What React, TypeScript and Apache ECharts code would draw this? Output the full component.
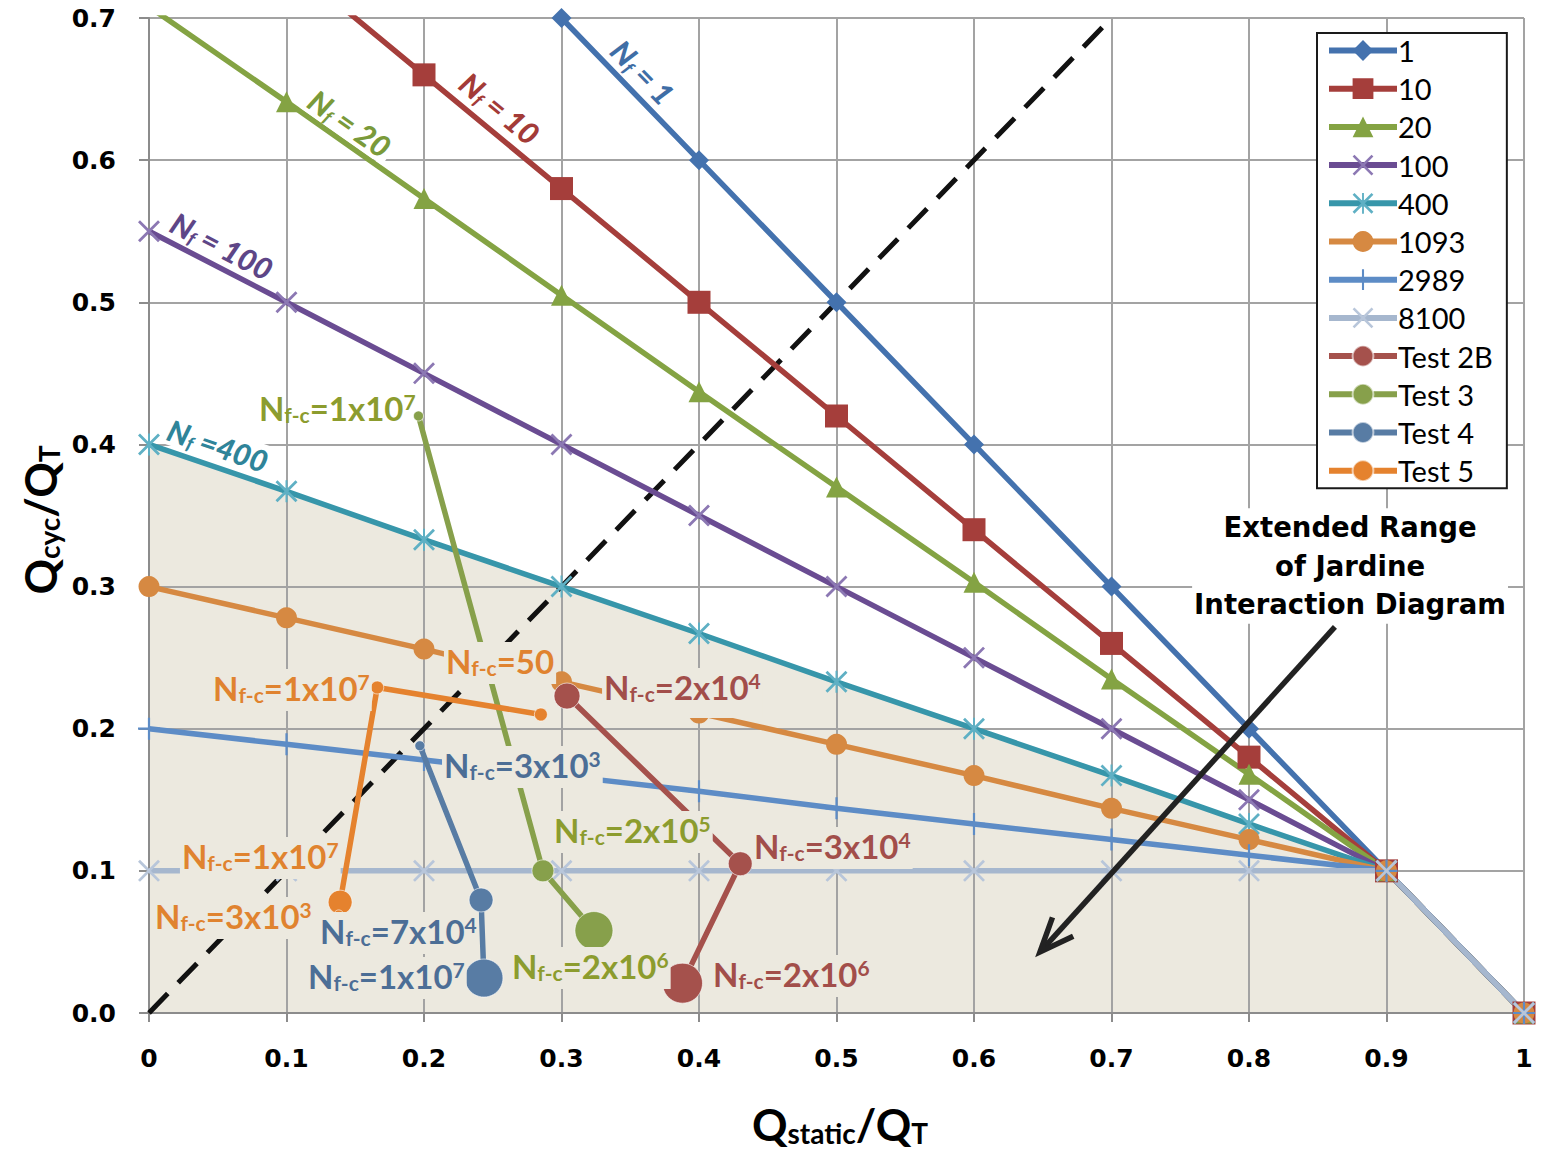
import React, { useEffect, useRef } from "react";
import * as echarts from "echarts";

// ---------- data ----------
const xs = [0, 0.1, 0.2, 0.3, 0.4, 0.5, 0.6, 0.7, 0.8, 0.9, 1];
const nf1 = [1.0, 0.9, 0.8, 0.7, 0.6, 0.5, 0.4, 0.3, 0.2, 0.1, 0];
const nf10 = [0.82, 0.74, 0.66, 0.58, 0.5, 0.42, 0.34, 0.26, 0.18, 0.1, 0];
const nf20 = [0.708, 0.641, 0.573, 0.505, 0.437, 0.37, 0.303, 0.235, 0.168, 0.1, 0];
const nf100 = [0.55, 0.5, 0.45, 0.4, 0.35, 0.3, 0.25, 0.2, 0.15, 0.1, 0];
const nf400 = [0.4, 0.367, 0.333, 0.3, 0.267, 0.233, 0.2, 0.167, 0.133, 0.1, 0];
const nf1093 = [0.3, 0.278, 0.256, 0.233, 0.211, 0.189, 0.167, 0.144, 0.122, 0.1, 0];
const nf2989 = [0.2, 0.189, 0.178, 0.167, 0.156, 0.144, 0.133, 0.122, 0.111, 0.1, 0];
const nf8100 = [0.1, 0.1, 0.1, 0.1, 0.1, 0.1, 0.1, 0.1, 0.1, 0.1, 0];

const test2B = [[0.304, 0.223], [0.43, 0.105], [0.388, 0.021]];
const test2BSize = [26, 24, 40];
const test3 = [[0.196, 0.42], [0.2865, 0.1], [0.3236, 0.058]];
const test3Size = [10, 22, 38];
const test4 = [[0.197, 0.188], [0.2415, 0.0795], [0.2436, 0.0246]];
const test4Size = [10, 24, 38];
const test5 = [[0.285, 0.21], [0.166, 0.229], [0.139, 0.078], [0.138, 0.069]];
const test5Size = [13, 13, 24, 10];

const diagonal = [[0, 0], [0.7, 0.7]];

const legendNames = ["1", "10", "20", "100", "400", "1093", "2989", "8100", "Test 2B", "Test 3", "Test 4", "Test 5"];

// annotation texts (anchor in data coordinates)
const nfLabels = [
  { t: " = 1", x: 0.3593, y: 0.662, slope: 1.0, color: "#3F6EA6" },
  { t: " = 10", x: 0.2553, y: 0.6367, slope: 0.8, color: "#A33B38" },
  { t: " = 20", x: 0.1462, y: 0.626, slope: 0.676, color: "#7A9A3A" },
  { t: " = 100", x: 0.0531, y: 0.5399, slope: 0.5, color: "#5E4687" },
  { t: " =400", x: 0.0502, y: 0.3995, slope: 0.333, color: "#2F8499" },
];

const nfcLabels = [
  { v: "1x10", e: "7", x: 0.0785, y: 0.4242, color: "#8C9C2E", bg: "rgba(0,0,0,0)", pb: 6 },
  { v: "50", e: "", x: 0.2145, y: 0.2462, color: "#E0832F", bg: "#ECE9DF", pb: 6 },
  { v: "1x10", e: "7", x: 0.0451, y: 0.2272, color: "#E0832F", bg: "#ECE9DF", pb: 6 },
  { v: "2x10", e: "4", x: 0.3295, y: 0.2251, color: "#A24E4A", bg: "#ECE9DF", pb: 14 },
  { v: "3x10", e: "3", x: 0.2131, y: 0.1731, color: "#4C6E96", bg: "#ECE9DF", pb: 6 },
  { v: "2x10", e: "5", x: 0.2931, y: 0.1273, color: "#8C9C2E", bg: "#ECE9DF", pb: 6 },
  { v: "3x10", e: "4", x: 0.4385, y: 0.1161, color: "#A24E4A", bg: "#ECE9DF", pb: 6 },
  { v: "1x10", e: "7", x: 0.0225, y: 0.109, color: "#E0832F", bg: "#ECE9DF", pb: 6 },
  { v: "3x10", e: "3", x: 0.0029, y: 0.0668, color: "#E0832F", bg: "#ECE9DF", pb: 6 },
  { v: "7x10", e: "4", x: 0.1229, y: 0.0563, color: "#4C6E96", bg: "#ECE9DF", pb: 6 },
  { v: "1x10", e: "7", x: 0.1142, y: 0.0246, color: "#4C6E96", bg: "#ECE9DF", pb: 6 },
  { v: "2x10", e: "6", x: 0.2625, y: 0.0317, color: "#8C9C2E", bg: "#ECE9DF", pb: 6 },
  { v: "2x10", e: "6", x: 0.4087, y: 0.026, color: "#A24E4A", bg: "#ECE9DF", pb: 6 },
];

const noteText = ["Extended Range", "of Jardine", "Interaction Diagram"];
const noteAnchor = [0.8735, 0.3145];
const arrowFrom = [0.8625, 0.2716];
const arrowTo = [0.648, 0.0429];

// ---------- styling ----------
const SYM_X = "path://M0,0.9L0.9,0L10,9.1L9.1,10Z M9.1,0L10,0.9L0.9,10L0,9.1Z";
const SYM_STAR = "path://M0,0.9L0.9,0L10,9.1L9.1,10Z M9.1,0L10,0.9L0.9,10L0,9.1Z M4.55,0L5.45,0L5.45,10L4.55,10Z";
const SYM_PLUS = "path://M4.5,0L5.5,0L5.5,10L4.5,10Z M0,4.5L10,4.5L10,5.5L0,5.5Z";

const LBL_FONT = "Lato, 'Open Sans', sans-serif";
const TICK_FONT = "'DejaVu Sans', Verdana, sans-serif";
const LW = 5.5;

function pairs(ys: number[]) {
  return xs.map((x, i) => [x, ys[i]]);
}

function nfSeries(name: string, ys: number[], color: string, symbol: string, size: number, symColor?: string) {
  return {
    name,
    type: "line",
    data: pairs(ys),
    symbol,
    symbolSize: size,
    showAllSymbol: true,
    clip: true,
    lineStyle: { color, width: LW },
    itemStyle: { color: symColor || color },
    color,
    z: 3,
  };
}

function testSeries(name: string, pts: number[][], sizes: number[], color: string) {
  return {
    name,
    type: "line",
    data: pts.map((p, i) => ({ value: p, symbolSize: sizes[i] })),
    symbol: "circle",
    symbolSize: 14,
    showAllSymbol: true,
    lineStyle: { color, width: LW },
    itemStyle: { color, borderColor: "rgba(255,255,255,0.6)", borderWidth: 1 },
    color,
    z: 4,
  };
}

export default function App() {
  const ref = useRef<HTMLDivElement>(null);
  useEffect(() => {
    if (!ref.current) return;
    const chart = echarts.init(ref.current, null, { renderer: "svg" });
    const option: any = {
      animation: false,
      backgroundColor: "#ffffff",
      grid: { left: 149, right: 21, top: 18, bottom: 136, containLabel: false },
      xAxis: {
        type: "value",
        min: 0,
        max: 1,
        interval: 0.1,
        axisLine: { show: true, lineStyle: { color: "#8c8c8c", width: 2 } },
        axisTick: { show: true, length: 9, lineStyle: { color: "#8c8c8c", width: 2 } },
        splitLine: { show: true, lineStyle: { color: "#a3a3a3", width: 2 } },
        axisLabel: {
          margin: 33,
          color: "#000",
          fontFamily: TICK_FONT,
          fontWeight: "bold",
          fontSize: 25,
          formatter: (v: number) => (v === 0 ? "0" : v === 1 ? "1" : v.toFixed(1)),
        },
      },
      yAxis: {
        type: "value",
        min: 0,
        max: 0.7,
        interval: 0.1,
        axisLine: { show: true, lineStyle: { color: "#8c8c8c", width: 2 } },
        axisTick: { show: true, length: 10, lineStyle: { color: "#8c8c8c", width: 2 } },
        splitLine: { show: true, lineStyle: { color: "#a3a3a3", width: 2 } },
        axisLabel: {
          margin: 33,
          color: "#000",
          fontFamily: TICK_FONT,
          fontWeight: "bold",
          fontSize: 25,
          formatter: (v: number) => v.toFixed(1),
        },
      },
      legend: {
        data: legendNames,
        orient: "vertical",
        left: 1317,
        top: 33,
        padding: [3, 14, 3, 9],
        itemWidth: 68,
        itemHeight: 26,
        itemGap: 9.2,
        backgroundColor: "#ffffff",
        borderColor: "#1a1a1a",
        borderWidth: 2,
        lineStyle: { width: 6 },
        textStyle: { fontFamily: LBL_FONT, fontSize: 29, lineHeight: 26, color: "#000", padding: [0, 0, 0, -4] },
      },
      series: [
        {
          name: "fill",
          type: "line",
          data: pairs(nf400),
          symbol: "none",
          lineStyle: { width: 0, opacity: 0 },
          areaStyle: { color: "#ECE9DF", opacity: 1 },
          silent: true,
          z: -1,
        },
        {
          name: "diag",
          type: "line",
          data: diagonal,
          symbol: "none",
          lineStyle: { color: "#111", width: 5, type: [27, 15] },
          silent: true,
          z: 2,
        },
        nfSeries("1", nf1, "#4472AE", "diamond", 20),
        nfSeries("10", nf10, "#A53E3B", "rect", 23),
        nfSeries("20", nf20, "#84A343", "triangle", 21),
        nfSeries("100", nf100, "#6A4C92", SYM_X, 22, "#8c78b3"),
        nfSeries("400", nf400, "#3796AA", SYM_STAR, 22, "#5fb0c4"),
        nfSeries("1093", nf1093, "#D68942", "circle", 21),
        nfSeries("2989", nf2989, "#5D8CC6", SYM_PLUS, 22),
        nfSeries("8100", nf8100, "#A6B7CE", SYM_X, 22, "#b8c6da"),
        testSeries("Test 2B", test2B, test2BSize, "#A5514C"),
        testSeries("Test 3", test3, test3Size, "#87A04B"),
        testSeries("Test 4", test4, test4Size, "#587CA4"),
        testSeries("Test 5", test5, test5Size, "#E5822E"),
      ],
    };
    chart.setOption(option);

    const px = (p: number[]) => chart.convertToPixel({ gridIndex: 0 } as any, p) as number[];
    const kx = px([1, 0])[0] - px([0, 0])[0];
    const ky = px([0, 0])[1] - px([0, 1])[1];

    const graphics: any[] = [];

    nfLabels.forEach((l) => {
      const p = px([l.x, l.y]);
      const ang = Math.atan((l.slope * ky) / kx);
      const tok = { fill: l.color, fontFamily: LBL_FONT, fontWeight: "900", fontStyle: "italic" };
      graphics.push({
        type: "text",
        x: p[0],
        y: p[1],
        rotation: -ang,
        z: 60,
        style: {
          text: `{n|N}{s|f}{n|${l.t}}`,
          align: "center",
          verticalAlign: "middle",
          backgroundColor: "#ffffff",
          padding: [0, 4, 0, 4],
          rich: {
            n: { ...tok, fontSize: 30, lineHeight: 32 },
            s: { ...tok, fontSize: 18, lineHeight: 2, verticalAlign: "bottom" },
          },
        },
      });
    });

    nfcLabels.forEach((l) => {
      const p = px([l.x, l.y]);
      const tok = { fill: l.color, fontFamily: LBL_FONT, fontWeight: "bold" };
      const text = `{n|N}{s|f-c}{n|=${l.v}}` + (l.e ? `{p|${l.e}}` : "");
      graphics.push({
        type: "text",
        x: p[0],
        y: p[1],
        z: 60,
        style: {
          text,
          align: "left",
          verticalAlign: "middle",
          backgroundColor: l.bg,
          padding: [2, 2, l.pb, 2],
          rich: {
            n: { ...tok, fontSize: 33, lineHeight: 34 },
            s: { ...tok, fontSize: 21, lineHeight: 2, verticalAlign: "bottom" },
            p: { ...tok, fontSize: 21, lineHeight: 16, verticalAlign: "top" },
          },
        },
      });
    });

    const na = px(noteAnchor);
    graphics.push({
      type: "text",
      x: na[0],
      y: na[1],
      z: 55,
      style: {
        text: noteText.join("\n"),
        align: "center",
        verticalAlign: "middle",
        fill: "#000",
        fontFamily: TICK_FONT,
        fontWeight: "bold",
        fontSize: 27.5,
        lineHeight: 38.5,
        backgroundColor: "#ffffff",
        padding: [0, 2, 0, 2],
      },
    });

    const a0 = px(arrowFrom);
    const a1 = px(arrowTo);
    const dx = a0[0] - a1[0];
    const dy = a0[1] - a1[1];
    const len = Math.sqrt(dx * dx + dy * dy);
    const ux = dx / len;
    const uy = dy / len;
    const hl = 34;
    const hw = 14;
    const h1 = [a1[0] + ux * hl - uy * hw, a1[1] + uy * hl + ux * hw];
    const h2 = [a1[0] + ux * hl + uy * hw, a1[1] + uy * hl - ux * hw];
    graphics.push({
      type: "line",
      z: 55,
      shape: { x1: a0[0], y1: a0[1], x2: a1[0] + ux * 3, y2: a1[1] + uy * 3 },
      style: { stroke: "#222", lineWidth: 5.5 },
    });
    graphics.push({
      type: "polyline",
      z: 55,
      shape: { points: [h1, a1, h2] },
      style: { stroke: "#222", lineWidth: 5.5, fill: null, lineJoin: "miter" },
    });

    // axis titles
    const big = { fill: "#000", fontFamily: LBL_FONT, fontWeight: "bold", fontSize: 44, lineHeight: 46 };
    const sub = { fill: "#000", fontFamily: LBL_FONT, fontWeight: "bold", fontSize: 28, lineHeight: 4, verticalAlign: "bottom" };
    graphics.push({
      type: "text",
      x: 840,
      y: 1124,
      z: 60,
      style: {
        text: "{q|Q}{s|static}{q|/Q}{s|T}",
        align: "center",
        verticalAlign: "middle",
        rich: { q: big, s: sub },
      },
    });
    graphics.push({
      type: "text",
      x: 40,
      y: 520,
      rotation: Math.PI / 2,
      z: 60,
      style: {
        text: "{q|Q}{s|cyc}{q|/Q}{s|T}",
        align: "center",
        verticalAlign: "middle",
        rich: { q: big, s: sub },
      },
    });

    chart.setOption({ graphic: graphics });
    return () => chart.dispose();
  }, []);
  return <div ref={ref} style={{ position: "absolute", left: 0, top: 0, width: 1545, height: 1149 }} />;
}
